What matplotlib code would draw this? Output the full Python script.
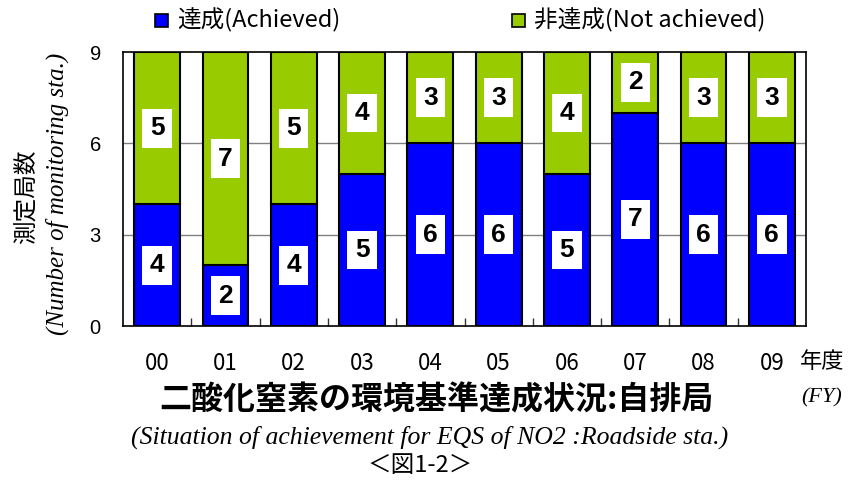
import matplotlib
matplotlib.use("Agg")
import matplotlib.pyplot as plt
from matplotlib.patches import Rectangle

years = ["00", "01", "02", "03", "04", "05", "06", "07", "08", "09"]
achieved = [4, 2, 4, 5, 6, 6, 5, 7, 6, 6]
not_achieved = [5, 7, 5, 4, 3, 3, 4, 2, 3, 3]
yticks = [0, 3, 6, 9]

JP = ["Noto Sans CJK JP", "DejaVu Sans"]
SERIF = ["Liberation Serif", "DejaVu Serif"]
SANS = ["Liberation Sans", "DejaVu Sans"]
NARROW = ["Liberation Sans Narrow", "Liberation Sans", "DejaVu Sans"]

BLUE = "#0000FF"
GREEN = "#99CC00"

W, H = 852, 482
fig = plt.figure(figsize=(W/100, H/100), dpi=100)
ax = fig.add_axes([123/W, 1-326/H, (806-123)/W, (326-52)/H])

x = list(range(len(years)))
w = 0.67
ax.bar(x, achieved, width=w, color=BLUE, edgecolor="black", linewidth=1.5, zorder=3)
ax.bar(x, not_achieved, width=w, bottom=achieved, color=GREEN, edgecolor="black", linewidth=1.5, zorder=3)

box = dict(boxstyle="square,pad=0.28", facecolor="white", edgecolor="none")
for i in x:
    ax.text(i, achieved[i]/2, str(achieved[i]), ha="center", va="center",
            fontsize=19, fontweight="bold", family=NARROW, bbox=box, zorder=5)
    ax.text(i, achieved[i] + not_achieved[i]/2, str(not_achieved[i]), ha="center", va="center",
            fontsize=19, fontweight="bold", family=NARROW, bbox=box, zorder=5)

ax.set_xlim(-0.5, len(years)-0.5)
ax.set_ylim(0, 9)
ax.set_yticks(yticks)
ax.set_yticklabels([str(v) for v in yticks], family=SANS, fontsize=14.5)
ax.set_xticks(x)
ax.set_xticklabels(years, family=JP, fontsize=16)
ax.set_xticks([i + 0.5 for i in x[:-1]], minor=True)
ax.tick_params(axis="x", which="major", length=0, pad=19)
ax.tick_params(axis="x", which="minor", direction="in", length=6, width=1, color="#333333")
ax.tick_params(axis="y", which="major", length=0, pad=16)
for y in [3, 6]:
    ax.axhline(y, color="#808080", linewidth=1, zorder=1)
for s in ax.spines.values():
    s.set_linewidth(1.2)

# y axis labels
fig.text(27/W, 1-197/H, "測定局数", rotation=90, ha="center", va="center",
         family=JP, fontsize=17)
fig.text(57/W, 1-194/H, "(Number of monitoring sta.)", rotation=90, ha="center", va="center",
         family=SERIF, style="italic", fontsize=18)

# x axis unit
fig.text(822/W, 1-362/H, "年度", ha="center", va="center", family=JP, fontsize=16)
fig.text(822/W, 1-398/H, "(FY)", ha="center", va="center", family=SERIF, style="italic", fontsize=16)

# titles
fig.text(436/W, 1-400/H, "二酸化窒素の環境基準達成状況:自排局", ha="center", va="center",
         family=JP, fontweight="bold", fontsize=23)
fig.text(430/W, 1-437/H, "(Situation of achievement for EQS of NO2 :Roadside sta.)",
         ha="center", va="center", family=SERIF, style="italic", fontsize=18.5)
fig.text(420/W, 1-465/H, "＜図1-2＞", ha="center", va="center", family=JP, fontsize=17)

# legend
legend_items = [("達成(Achieved)", BLUE, 155), ("非達成(Not achieved)", GREEN, 512)]
for label, col, x0 in legend_items:
    fig.add_artist(Rectangle((x0/W, 1-27/H), 13/W, 13/H, transform=fig.transFigure,
                             facecolor=col, edgecolor="black", linewidth=1.2))
    fig.text((x0+22)/W, 1-20/H, label, ha="left", va="center", family=JP, fontsize=17)

fig.savefig("out.png", dpi=100)
